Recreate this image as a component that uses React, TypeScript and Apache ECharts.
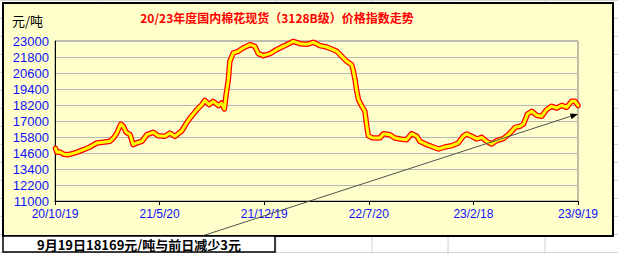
import React, { useEffect, useRef } from "react";
import * as echarts from "echarts";

// Day offsets from 2020-10-19 and the cotton spot price index (yuan/ton)
const dayOffsets = [
  1, 4, 10, 18, 26, 35, 44, 58, 71, 85, 98, 112, 119, 126, 134, 139, 145, 153, 159, 166,
  177, 187, 200, 210, 224, 234, 244, 258, 268, 275, 289, 299, 305, 314, 322, 333, 339, 345, 348, 353,
  356, 363, 373, 383, 397, 407, 414, 424, 438, 451, 465, 479, 485, 499, 513, 526, 540, 553, 563, 574,
  584, 594, 604, 607, 611, 614, 618, 625, 631, 635, 638, 645, 655, 662, 669, 682, 692, 703, 716, 726,
  737, 743, 757, 770, 781, 794, 808, 821, 831, 838, 849, 859, 869, 879, 889, 899, 913, 923, 930, 937,
  947, 954, 959, 962, 971, 981, 991, 1001, 1011, 1022, 1032, 1042, 1052, 1059, 1065,
];
const prices = [
  14950, 14650, 14675, 14500, 14470, 14550, 14650, 14850, 15050, 15350, 15400, 15475, 15725, 16100, 16775, 16600, 16150, 15975, 15225, 15350,
  15475, 15975, 16150, 15900, 15850, 16100, 15850, 16250, 16850, 17225, 17850, 18225, 18550, 18225, 18475, 18150, 18350, 17900, 18850, 20100,
  21475, 22100, 22225, 22475, 22725, 22600, 22050, 21900, 22050, 22350, 22600, 22850, 22975, 22800, 22750, 22900, 22650, 22550, 22400, 22225,
  21850, 21475, 21225, 20850, 20100, 19350, 18600, 18100, 17725, 16600, 15900, 15750, 15725, 15750, 16050, 15975, 15725, 15650, 15600, 16050,
  15850, 15475, 15225, 15050, 14900, 15050, 15150, 15350, 15850, 16025, 15850, 15650, 15775, 15475, 15275, 15525, 15675, 15975, 16225, 16525,
  16600, 16775, 17225, 17525, 17725, 17425, 17350, 17850, 18100, 17975, 18175, 18025, 18475, 18475, 18169,
];
const xTickLabels = ["20/10/19", "21/5/20", "21/12/19", "22/7/20", "23/2/18", "23/9/19"];
const xTickStep = 213;
const yMin = 11000;
const yMax = 23000;
const yStep = 1200;

const titleText = "20/23年度国内棉花现货（3128B级）价格指数走势";
const unitText = "元/吨";
const noteText = "9月19日18169元/吨与前日减少3元";

export default function App() {
  const ref = useRef<HTMLDivElement>(null);

  useEffect(() => {
    if (!ref.current) return;
    const chart = echarts.init(ref.current, null, { renderer: "svg" });
    const data = dayOffsets.map((d, i) => [d, prices[i]]);

    const bgLines: any[] = [];
    const cols = [98, 194.5, 276, 372, 448, 545];
    cols.forEach((x) =>
      bgLines.push({ type: "line", z: -20, silent: true, shape: { x1: x, y1: 0, x2: x, y2: 254 }, style: { stroke: "#D4D4D4", lineWidth: 1 } })
    );
    for (let y = 0; y <= 254; y += 18) {
      bgLines.push({ type: "line", z: -20, silent: true, shape: { x1: 0, y1: y + 0.5, x2: 618, y2: y + 0.5 }, style: { stroke: "#D4D4D4", lineWidth: 1 } });
    }

    chart.setOption({
      animation: false,
      backgroundColor: "#FFFFFF",
      grid: {
        left: 55,
        right: 40,
        top: 41,
        bottom: 53,
        show: true,
        borderColor: "#808080",
        borderWidth: 1,
        backgroundColor: "transparent",
      },
      xAxis: {
        type: "value",
        min: 0,
        max: xTickStep * (xTickLabels.length - 1),
        interval: xTickStep,
        axisLine: { show: true, lineStyle: { color: "#000000", width: 1 } },
        axisTick: { show: true, length: 4, lineStyle: { color: "#000000" } },
        splitLine: { show: false },
        axisLabel: {
          color: "#1010FF",
          fontSize: 12,
          fontFamily: "Liberation Sans",
          margin: 7,
          formatter: (v: number) => xTickLabels[Math.round(v / xTickStep)] ?? "",
        },
      },
      yAxis: {
        type: "value",
        min: yMin,
        max: yMax,
        interval: yStep,
        axisLine: { show: true, lineStyle: { color: "#000000", width: 1 } },
        axisTick: { show: false },
        splitLine: { show: true, lineStyle: { color: "#B8B8B8", width: 1 } },
        axisLabel: {
          color: "#1010FF",
          fontSize: 13,
          fontFamily: "Liberation Sans",
          margin: 6,
          formatter: (v: number) => String(Math.round(v)),
        },
      },
      series: [
        {
          type: "line",
          data,
          showSymbol: false,
          z: 3,
          lineStyle: { color: "#FF0000", width: 5.5, join: "round", cap: "round" },
        },
        {
          type: "line",
          data,
          showSymbol: false,
          z: 4,
          lineStyle: { color: "#FFFF00", width: 3, join: "round", cap: "round" },
        },
      ],
      graphic: [
        ...bgLines,
        {
          type: "rect",
          z: -10,
          silent: true,
          shape: { x: 3, y: 3, width: 610, height: 233 },
          style: { fill: "#FFFFCC", stroke: "#000000", lineWidth: 2 },
        },
        {
          type: "text",
          z: 50,
          x: 277,
          y: 17,
          style: {
            text: titleText,
            fill: "#FF0000",
            font: 'bold 12px "Noto Sans CJK SC"',
            align: "center",
            verticalAlign: "middle",
          },
        },
        {
          type: "text",
          z: 50,
          x: 12,
          y: 20,
          style: {
            text: unitText,
            fill: "#000000",
            font: '13px "Noto Sans CJK SC"',
            align: "left",
            verticalAlign: "middle",
          },
        },
        {
          type: "line",
          z: 60,
          silent: true,
          shape: { x1: 202, y1: 236, x2: 574, y2: 115.2 },
          style: { stroke: "#505050", lineWidth: 1 },
        },
        {
          type: "polygon",
          z: 61,
          silent: true,
          shape: { points: [[578, 114], [571.6, 119.3], [569.9, 113.6]] },
          style: { fill: "#000000" },
        },
        {
          type: "rect",
          z: 70,
          silent: true,
          shape: { x: 3, y: 236, width: 272, height: 16 },
          style: { fill: "#FFFFFF", stroke: "#000000", lineWidth: 1.5 },
        },
        {
          type: "text",
          z: 71,
          x: 139,
          y: 244,
          style: {
            text: noteText,
            fill: "#000000",
            font: 'bold 13px "Noto Sans CJK SC"',
            align: "center",
            verticalAlign: "middle",
          },
        },
      ],
    });
    return () => chart.dispose();
  }, []);

  return (
    <div
      ref={ref}
      style={{ position: "fixed", left: 0, top: 0, width: 618, height: 254 }}
    />
  );
}
